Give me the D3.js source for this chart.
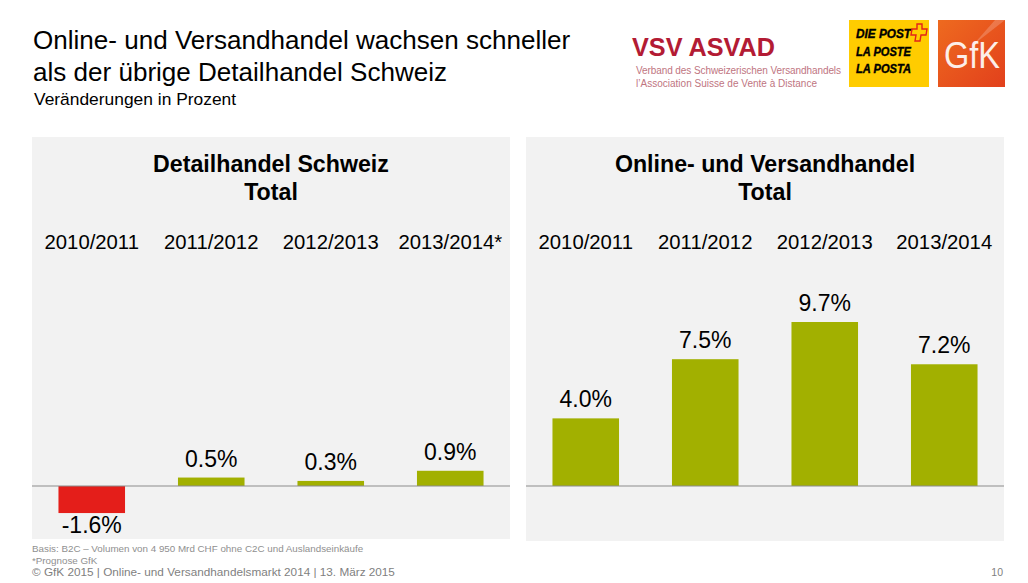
<!DOCTYPE html>
<html>
<head>
<meta charset="utf-8">
<script src="https://cdn.jsdelivr.net/npm/d3@7"></script>
<style>
  html, body { margin: 0; padding: 0; background: #fff; }
  svg { display: block; }
  text { font-family: "Liberation Sans", Arial, sans-serif; }
</style>
</head>
<body>
<div id="chart"></div>
<script>
const retailYears = ['2010/2011', '2011/2012', '2012/2013', '2013/2014*'];
const retailValues = [-1.6, 0.5, 0.3, 0.9];
const onlineYears = ['2010/2011', '2011/2012', '2012/2013', '2013/2014'];
const onlineValues = [4.0, 7.5, 9.7, 7.2];

const titleLines = ['Online- und Versandhandel wachsen schneller', 'als der übrige Detailhandel Schweiz'];
const retailTitle = ['Detailhandel Schweiz', 'Total'];
const onlineTitle = ['Online- und Versandhandel', 'Total'];
const footnotes = ['Basis: B2C – Volumen von 4 950 Mrd CHF ohne C2C und Auslandseinkäufe', '*Prognose GfK'];

const svg = d3.select('#chart').append('svg').attr('width', 1028).attr('height', 583);

// gemeinsame Skala, 0 liegt bei y=486
const y = d3.scaleLinear().domain([0, 9.7]).range([486, 322]);

svg.selectAll('.headline')
  .data(titleLines)
  .join('text')
  .attr('class', 'headline')
  .attr('x', 33)
  .attr('y', (d, i) => 49 + i * 32)
  .attr('font-size', 26.05)
  .attr('fill', '#000')
  .text(d => d);

svg.append('text')
  .attr('x', 34)
  .attr('y', 105)
  .attr('font-size', 17.4)
  .attr('fill', '#000')
  .text('Veränderungen in Prozent');

function drawPanel(x0, x1, bottom, title, years, values) {
  const g = svg.append('g');

  g.append('rect')
    .attr('x', x0)
    .attr('y', 137)
    .attr('width', x1 - x0)
    .attr('height', bottom - 137)
    .attr('fill', '#f2f2f2');

  g.selectAll('.panel-title')
    .data(title)
    .join('text')
    .attr('class', 'panel-title')
    .attr('x', (x0 + x1) / 2)
    .attr('y', (d, i) => 172 + i * 28)
    .attr('text-anchor', 'middle')
    .attr('font-size', 23.2)
    .attr('font-weight', 'bold')
    .text(d => d);

  const x = d3.scaleBand()
    .domain(years)
    .range([x0, x1])
    .paddingInner(0.443)
    .paddingOuter(0.2215);

  const axis = g.append('g')
    .attr('transform', 'translate(0,230)')
    .call(d3.axisTop(x).tickSize(0).tickPadding(0));
  axis.select('.domain').remove();
  axis.selectAll('text')
    .attr('font-size', 20.3)
    .attr('font-family', '"Liberation Sans", Arial, sans-serif')
    .attr('fill', '#000')
    .attr('dy', '0.95em');

  const rows = years.map((year, i) => ({ year, value: values[i] }));

  g.selectAll('.bar')
    .data(rows)
    .join('rect')
    .attr('class', 'bar')
    .attr('x', d => x(d.year))
    .attr('y', d => y(Math.max(0, d.value)))
    .attr('width', x.bandwidth())
    .attr('height', d => Math.abs(y(d.value) - y(0)))
    .attr('fill', d => d.value < 0 ? '#e41e1a' : '#a2b000');

  g.append('line')
    .attr('x1', x0)
    .attr('x2', x1)
    .attr('y1', y(0))
    .attr('y2', y(0))
    .attr('stroke', '#8c8c8c')
    .attr('stroke-width', 1);

  g.selectAll('.value')
    .data(rows)
    .join('text')
    .attr('class', 'value')
    .attr('x', d => x(d.year) + x.bandwidth() / 2)
    .attr('y', d => d.value < 0 ? y(d.value) + 20 : y(d.value) - 11)
    .attr('text-anchor', 'middle')
    .attr('font-size', 23)
    .attr('fill', '#000')
    .text(d => d.value.toFixed(1) + '%');
}

drawPanel(32, 510, 539, retailTitle, retailYears, retailValues);
drawPanel(526, 1004, 541, onlineTitle, onlineYears, onlineValues);

svg.selectAll('.note')
  .data(footnotes)
  .join('text')
  .attr('class', 'note')
  .attr('x', 32)
  .attr('y', (d, i) => 552 + i * 12)
  .attr('font-size', 9.8)
  .attr('fill', '#8f8f8f')
  .text(d => d);

svg.append('text')
  .attr('x', 32)
  .attr('y', 576)
  .attr('font-size', 11.75)
  .attr('fill', '#7f7f7f')
  .text('© GfK 2015 | Online- und Versandhandelsmarkt 2014 | 13. März 2015');

svg.append('text')
  .attr('x', 1003)
  .attr('y', 576)
  .attr('text-anchor', 'end')
  .attr('font-size', 10.5)
  .attr('fill', '#7f7f7f')
  .text('10');

// Logos
const vsv = svg.append('g');
vsv.append('text')
  .attr('x', 632).attr('y', 56)
  .attr('font-family', 'Lato, sans-serif')
  .attr('font-size', 26)
  .attr('font-weight', 'bold')
  .attr('textLength', 143)
  .attr('lengthAdjust', 'spacingAndGlyphs')
  .attr('fill', '#b31b34')
  .text('VSV ASVAD');
vsv.append('text')
  .attr('x', 636).attr('y', 74)
  .attr('font-family', 'Lato, sans-serif')
  .attr('font-size', 10)
  .attr('textLength', 205)
  .attr('fill', '#c0757f')
  .text('Verband des Schweizerischen Versandhandels');
vsv.append('text')
  .attr('x', 636).attr('y', 87)
  .attr('font-family', 'Lato, sans-serif')
  .attr('font-size', 10)
  .attr('textLength', 181)
  .attr('fill', '#c0757f')
  .text('l’Association Suisse de Vente à Distance');

const post = svg.append('g');
post.append('rect')
  .attr('x', 849).attr('y', 20).attr('width', 80).attr('height', 67)
  .attr('fill', '#ffcc00');
post.selectAll('.post-line')
  .data(['DIE POST', 'LA POSTE', 'LA POSTA'])
  .join('text')
  .attr('class', 'post-line')
  .attr('x', 856)
  .attr('y', (d, i) => 38 + i * 17.5)
  .attr('font-size', 13)
  .attr('font-weight', 'bold')
  .attr('font-style', 'italic')
  .attr('textLength', 55)
  .attr('lengthAdjust', 'spacingAndGlyphs')
  .attr('stroke', '#000')
  .attr('stroke-width', 0.4)
  .attr('fill', '#000')
  .text(d => d);
post.append('path')
  .attr('d', 'M917 24h5v5h5l-1 6h-5l-1 6h-5l1-6h-5l1-6h5z')
  .attr('fill', 'none')
  .attr('stroke', '#e2231a')
  .attr('stroke-width', 1.4);

const grad = svg.append('defs').append('linearGradient')
  .attr('id', 'gfk')
  .attr('x1', 0).attr('y1', 0).attr('x2', 1).attr('y2', 1);
grad.append('stop').attr('offset', 0).attr('stop-color', '#ee6a1f');
grad.append('stop').attr('offset', 1).attr('stop-color', '#e2401c');
svg.append('rect')
  .attr('x', 938).attr('y', 20).attr('width', 67).attr('height', 67)
  .attr('fill', 'url(#gfk)');
svg.append('path')
  .attr('d', 'M1005 20h-10l-22 25z')
  .attr('fill', '#fff')
  .attr('opacity', 0.2);
svg.append('text')
  .attr('x', 944).attr('y', 68)
  .attr('font-family', 'Lato, sans-serif')
  .attr('font-size', 37)
  .attr('fill', '#fff')
  .attr('opacity', 0.9)
  .attr('textLength', 56)
  .attr('lengthAdjust', 'spacingAndGlyphs')
  .text('GfK');
</script>
</body>
</html>
